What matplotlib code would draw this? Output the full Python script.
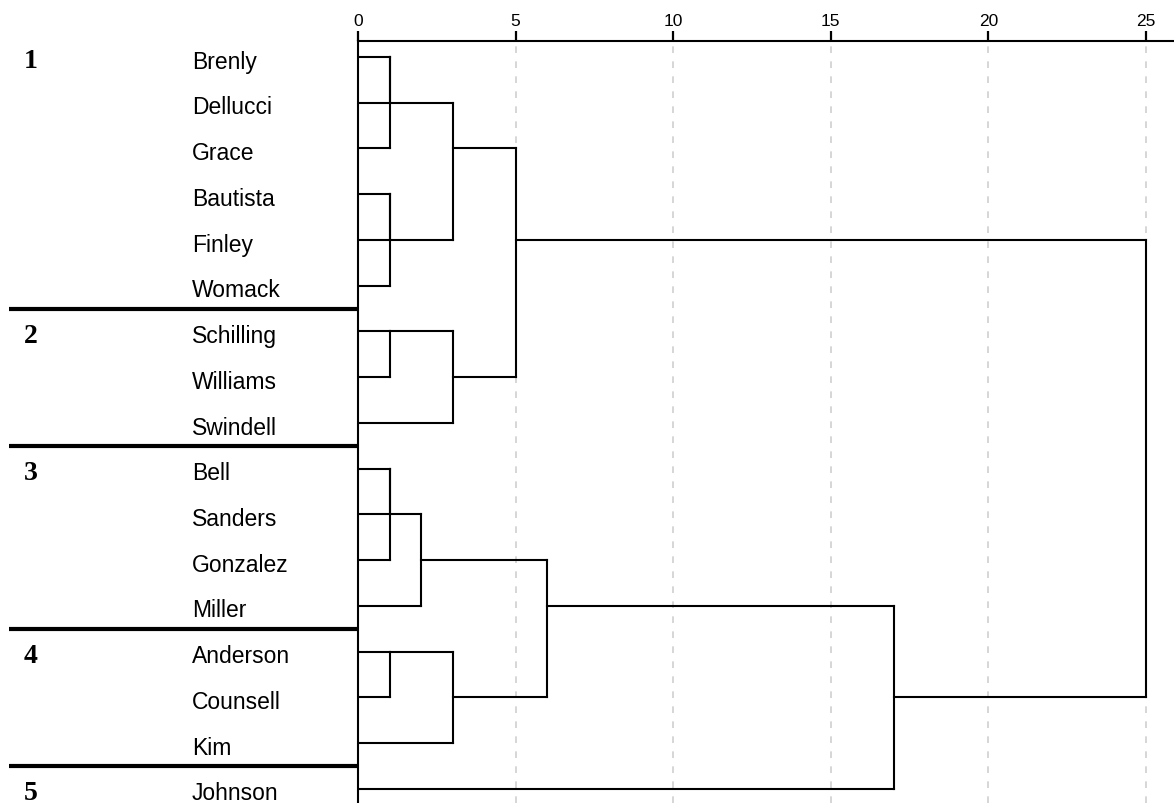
import matplotlib
matplotlib.use("Agg")
import matplotlib.pyplot as plt
import numpy as np

# ── Data ─────────────────────────────────────────────────────────────────────
names = ["Brenly", "Dellucci", "Grace", "Bautista", "Finley", "Womack",
         "Schilling", "Williams", "Swindell",
         "Bell", "Sanders", "Gonzalez", "Miller",
         "Anderson", "Counsell", "Kim",
         "Johnson"]
group_sizes = [6, 3, 4, 3, 1]
group_labels = ["1", "2", "3", "4", "5"]

# merges: (left id, right id, rescaled distance); ids < 17 are cases,
# id 17 + k is the cluster formed by merge k
merge_left = [0, 17, 3, 19, 18, 6, 22, 21, 9, 25, 26, 13, 28, 27, 30, 24]
merge_right = [1, 2, 4, 5, 20, 7, 8, 23, 10, 11, 12, 14, 15, 29, 16, 31]
merge_dist = [1, 1, 1, 1, 3, 1, 3, 5, 1, 1, 2, 1, 3, 6, 17, 25]

x_ticks = [0, 5, 10, 15, 20, 25]

# ── Figure ───────────────────────────────────────────────────────────────────
fig = plt.figure(figsize=(11.74, 8.04), dpi=100)
ax = fig.add_axes([358 / 1174, 0.0, 816 / 1174, (804 - 42) / 804])

n = len(names)
row = {i: float(i) for i in range(n)}
height = {i: 0.0 for i in range(n)}

line_kw = dict(color="black", linewidth=1.5, solid_capstyle="projecting", zorder=3)
for k, (a, b, d) in enumerate(zip(merge_left, merge_right, merge_dist)):
    node = n + k
    # horizontal links from each child out to the merge distance
    for c in (a, b):
        ax.plot([height[c], d], [row[c], row[c]], **line_kw)
    # vertical joining bar
    ax.plot([d, d], [row[a], row[b]], **line_kw)
    row[node] = float(np.floor((row[a] + row[b]) / 2))
    height[node] = d

ax.set_xlim(0, 816 / 31.52)
ax.set_ylim(16.31, -0.35)

# dashed reference lines
for t in x_ticks[1:]:
    ax.axvline(t, color="#cfcfcf", linestyle=(0, (4, 5)), linewidth=1.2, zorder=1)

ax.xaxis.tick_top()
ax.set_xticks(x_ticks)
ax.set_xticklabels([str(t) for t in x_ticks], fontsize=12.5, family="Liberation Sans")
ax.tick_params(axis="x", direction="out", length=7, width=1.6, pad=2)
ax.set_yticks([])
for side in ("right", "bottom"):
    ax.spines[side].set_visible(False)
ax.spines["top"].set_linewidth(1.5)
ax.spines["left"].set_linewidth(1.5)

# case names and cluster membership on the left
trans = ax.get_yaxis_transform()
for i, name in enumerate(names):
    ax.text(-0.2034, i + 0.09, name, transform=trans, ha="left", va="center",
            fontsize=16.5, family="Liberation Sans", clip_on=False)

start = 0
for size, lab in zip(group_sizes, group_labels):
    ax.text(-0.410, start + 0.08, lab, transform=trans, ha="left", va="center",
            fontsize=20, family="Liberation Serif", fontweight="bold", clip_on=False)
    end = start + size
    if end < n:
        ax.plot([-0.428, 0], [end - 0.5, end - 0.5], transform=trans,
                color="black", linewidth=3, clip_on=False, solid_capstyle="butt")
    start = end

fig.savefig("out.png", dpi=100)
